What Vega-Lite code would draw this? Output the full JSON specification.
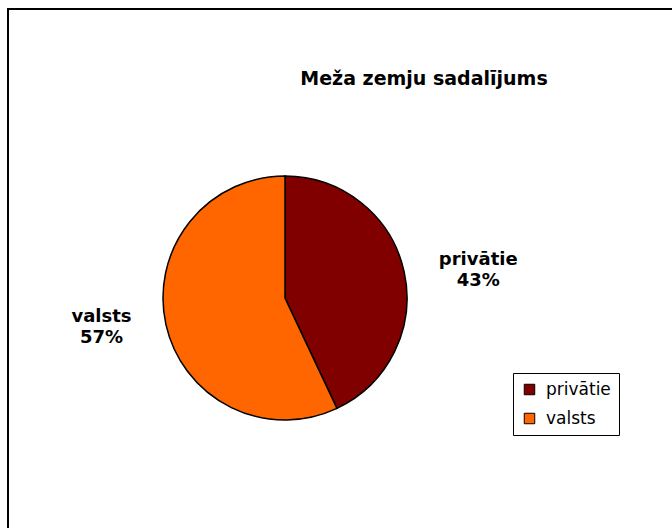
{
  "$schema": "https://vega.github.io/schema/vega-lite/v6.json",
  "width": 666,
  "height": 521,
  "autosize": {"type": "none"},
  "padding": {"left": 8, "top": 9, "right": -2, "bottom": -2},
  "background": "white",
  "config": {
    "view": {"stroke": "black", "strokeWidth": 2},
    "font": "DejaVu Sans"
  },
  "title": {
    "text": "Meža zemju sadalījums",
    "font": "DejaVu Sans",
    "fontSize": 19,
    "fontWeight": "bold",
    "color": "black",
    "anchor": "middle",
    "frame": "group",
    "dx": 83,
    "offset": -95,
    "baseline": "alphabetic"
  },
  "data": {
    "values": [
      {"category": "privātie", "value": 43},
      {"category": "valsts", "value": 57}
    ]
  },
  "transform": [
    {"calculate": "datum.category + '\\n' + datum.value + '%'", "as": "label"}
  ],
  "encoding": {
    "theta": {"field": "value", "type": "quantitative", "stack": true},
    "order": {"field": "category", "type": "nominal"},
    "x": {"value": 277},
    "y": {"value": 289}
  },
  "layer": [
    {
      "mark": {"type": "arc", "radius": 122, "stroke": "black", "strokeWidth": 1.5},
      "encoding": {
        "color": {
          "field": "category",
          "type": "nominal",
          "scale": {"domain": ["privātie", "valsts"], "range": ["#800000", "#FF6600"]},
          "legend": {
            "title": null,
            "orient": "none",
            "legendX": 505,
            "legendY": 364,
            "symbolType": "square",
            "symbolSize": 110,
            "symbolStrokeColor": "black",
            "symbolStrokeWidth": 1,
            "labelFont": "DejaVu Sans",
            "labelFontSize": 17,
            "labelColor": "black",
            "labelOffset": 8,
            "fillColor": "white",
            "strokeColor": "black",
            "padding": 8,
            "rowPadding": 11
          }
        }
      }
    },
    {
      "mark": {"type": "text", "font": "DejaVu Sans", "fontSize": 18, "fontWeight": "bold", "lineBreak": "\n", "lineHeight": 21, "align": "center", "baseline": "middle", "color": "black", "dy": 5},
      "encoding": {
        "detail": {"field": "category", "type": "nominal"},
        "radius": {"value": 198},
        "text": {"field": "label", "type": "nominal"},
        "opacity": {"condition": {"test": "datum.category === 'privātie'", "value": 1}, "value": 0}
      }
    },
    {
      "mark": {"type": "text", "font": "DejaVu Sans", "fontSize": 18, "fontWeight": "bold", "lineBreak": "\n", "lineHeight": 21, "align": "center", "baseline": "middle", "color": "black", "dy": -22},
      "encoding": {
        "detail": {"field": "category", "type": "nominal"},
        "radius": {"value": 188},
        "text": {"field": "label", "type": "nominal"},
        "opacity": {"condition": {"test": "datum.category === 'valsts'", "value": 1}, "value": 0}
      }
    }
  ]
}
